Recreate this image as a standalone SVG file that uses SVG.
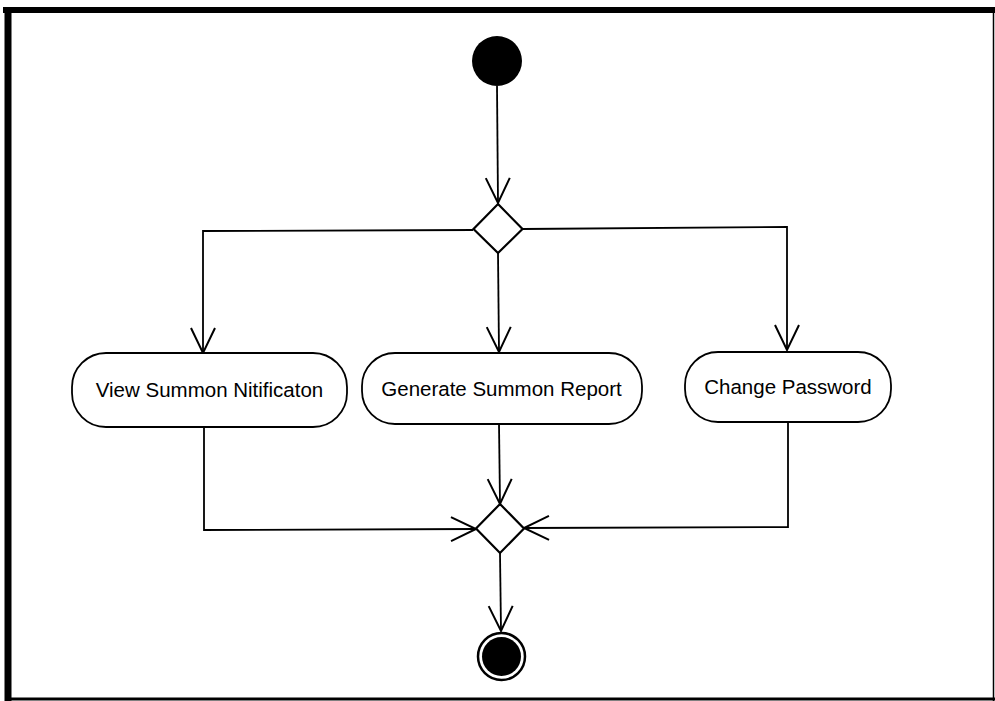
<svg xmlns="http://www.w3.org/2000/svg" width="995" height="701" viewBox="0 0 995 701">
  <style>
    .edge { fill: none; stroke: #000; stroke-width: 1.8; }
    .action { fill: #fff; stroke: #000; stroke-width: 1.8; }
    .decision { fill: #fff; stroke: #000; stroke-width: 2.2; }
    .label { font-family: "Liberation Sans", Arial, sans-serif; font-size: 20.5px; fill: #000; text-anchor: middle; }
    .frame { fill: none; stroke: #000; }
  </style>
  <defs>
    <marker id="open-arrow" markerUnits="userSpaceOnUse" markerWidth="40" markerHeight="40" viewBox="-30 -20 40 40" refX="0" refY="0" orient="auto" overflow="visible">
      <path d="M-25,-12 L0,0 L-25,12" fill="none" stroke="#000" stroke-width="2"/>
    </marker>
  </defs>

  <rect width="995" height="701" fill="#fff"/>

  <!-- outer frame -->
  <g id="frame">
    <line class="frame" x1="3" y1="10" x2="995" y2="10" stroke-width="6"/>
    <line class="frame" x1="8" y1="7" x2="8" y2="701" stroke-width="7"/>
    <line class="frame" x1="8" y1="699" x2="995" y2="699" stroke-width="3"/>
    <line class="frame" x1="993.5" y1="10" x2="993.5" y2="701" stroke-width="1.5" stroke="#555"/>
  </g>

  <!-- connectors -->
  <g id="connectors">
    <path class="edge" d="M497,86 L498,203" marker-end="url(#open-arrow)"/>
    <path class="edge" d="M473,230 L203,231 L203,353" marker-end="url(#open-arrow)"/>
    <path class="edge" d="M498,253 L499,352" marker-end="url(#open-arrow)"/>
    <path class="edge" d="M523,229 L787,227 L787,350" marker-end="url(#open-arrow)"/>
    <path class="edge" d="M204,427 L204,530 L476,529" marker-end="url(#open-arrow)"/>
    <path class="edge" d="M499,424 L500,504" marker-end="url(#open-arrow)"/>
    <path class="edge" d="M788,422 L788,527 L524,528" marker-end="url(#open-arrow)"/>
    <path class="edge" d="M500,553 L501,631" marker-end="url(#open-arrow)"/>
  </g>

  <!-- initial node -->
  <g id="start">
    <circle cx="497" cy="61" r="25" fill="#000"/>
  </g>

  <!-- decision -->
  <g id="decision">
    <path class="decision" d="M498,204 L522.5,229 L498,253 L473.5,229 Z"/>
  </g>

  <!-- actions -->
  <g id="view-summon">
    <rect class="action" x="72" y="353" width="275" height="74" rx="34" ry="34"/>
    <text class="label" x="209.5" y="397">View Summon Nitificaton</text>
  </g>
  <g id="generate-report">
    <rect class="action" x="362" y="353" width="280" height="71" rx="33" ry="33"/>
    <text class="label" x="501.5" y="395.5">Generate Summon Report</text>
  </g>
  <g id="change-password">
    <rect class="action" x="685" y="352" width="206" height="70" rx="33" ry="33"/>
    <text class="label" x="788" y="394">Change Password</text>
  </g>

  <!-- merge -->
  <g id="merge">
    <path class="decision" d="M500,504 L524,528.5 L500,553 L476,528.5 Z"/>
  </g>

  <!-- final node -->
  <g id="end">
    <circle cx="501.5" cy="656.5" r="23.5" fill="#fff" stroke="#000" stroke-width="2.5"/>
    <circle cx="501.5" cy="656.5" r="19.5" fill="#000"/>
  </g>
</svg>
